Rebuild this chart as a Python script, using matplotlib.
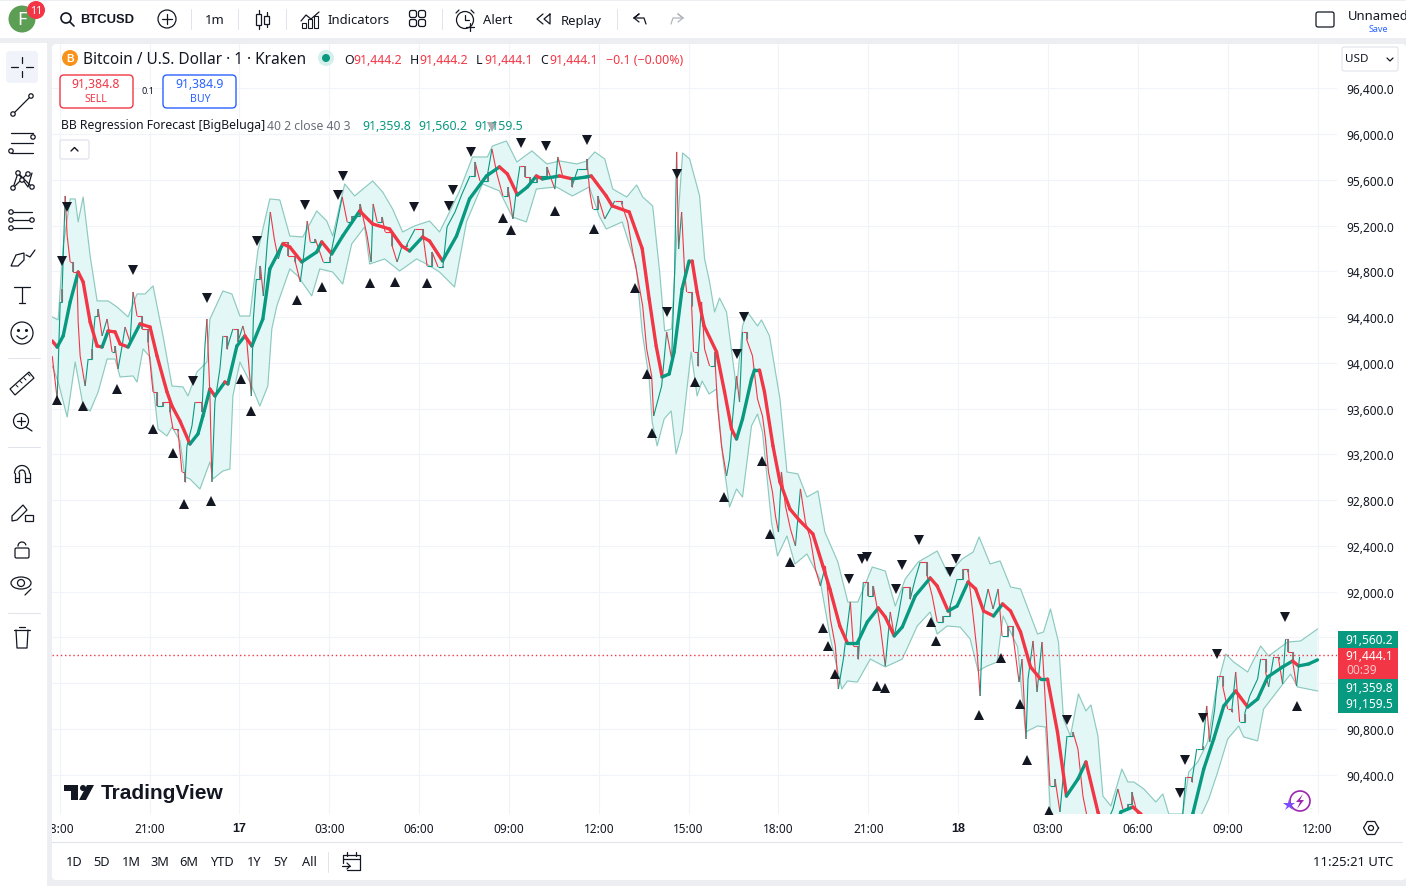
import numpy as np
import matplotlib
matplotlib.use('Agg')
import matplotlib.pyplot as plt
from matplotlib.patches import Rectangle, Circle, FancyBboxPatch, Polygon, Ellipse
from matplotlib.collections import LineCollection

plt.rcParams['font.family'] = ['Noto Sans', 'DejaVu Sans']

GREEN = '#089981'
RED = '#f23645'
DARK = '#131722'
BLUE = '#2962ff'

# minutes since 18:00 on the first day
basis_t = [-15, -5, 7, 21, 37, 47, 61, 75, 85, 97, 111, 121, 137, 161, 181, 195, 215, 225, 241, 261, 277, 287, 301, 311, 331, 337, 355, 371, 385, 407, 421, 447, 461, 485, 515, 525, 545, 567, 601, 627, 661, 685, 701, 727, 741, 767, 795, 821, 855, 881, 897, 917, 937, 955, 967, 1001, 1027, 1055, 1065, 1095, 1107, 1141, 1167, 1181, 1195, 1207, 1221, 1231, 1247, 1261, 1267, 1277, 1291, 1316, 1332, 1346, 1356, 1368, 1386, 1392, 1402, 1412, 1429, 1443, 1463, 1483, 1509, 1529, 1543, 1563, 1578, 1598, 1618, 1640, 1654, 1672, 1688, 1714, 1744, 1758, 1780, 1798, 1820, 1835, 1851, 1871, 1889, 1905, 1925, 1945, 1965, 1979, 1999, 2017, 2040, 2056, 2080, 2106, 2126, 2150, 2166, 2206, 2236, 2270, 2292, 2312, 2332, 2356, 2380, 2400, 2420, 2450, 2470, 2482, 2502, 2520]
basis_p = [94192, 94139, 94236, 94533, 94795, 94708, 94358, 94148, 94139, 94279, 94271, 94166, 94139, 94341, 94314, 94061, 93746, 93623, 93492, 93291, 93379, 93536, 93772, 93711, 93833, 93816, 94148, 94236, 94148, 94384, 94822, 95040, 95014, 94883, 94970, 95058, 94953, 95110, 95329, 95215, 95171, 95023, 94979, 95101, 95066, 94892, 95110, 95434, 95635, 95714, 95652, 95469, 95539, 95635, 95609, 95635, 95609, 95626, 95635, 95460, 95373, 95320, 95000, 94559, 94148, 93877, 93903, 94096, 94647, 94892, 94892, 94620, 94323, 94096, 93746, 93422, 93335, 93510, 93860, 93938, 93938, 93746, 93274, 92959, 92722, 92618, 92504, 92224, 92023, 91699, 91551, 91551, 91734, 91857, 91778, 91612, 91690, 91962, 92119, 92049, 91830, 91874, 92084, 92023, 91830, 91787, 91892, 91830, 91647, 91341, 91236, 91236, 90772, 90212, 90361, 90510, 90073, 89749, 90073, 90116, 90055, 89487, 89574, 90055, 90448, 90711, 90999, 91131, 90991, 91061, 91253, 91341, 91393, 91350, 91367, 91403]

upper_t = [-15, -3, 7, 21, 31, 37, 47, 61, 75, 97, 115, 137, 155, 171, 187, 207, 225, 247, 257, 275, 295, 301, 327, 345, 361, 381, 397, 421, 441, 461, 487, 515, 535, 547, 571, 591, 627, 647, 667, 687, 711, 741, 761, 781, 801, 827, 857, 867, 895, 916, 946, 976, 1002, 1036, 1056, 1072, 1092, 1108, 1136, 1156, 1168, 1188, 1202, 1212, 1226, 1236, 1248, 1262, 1282, 1292, 1302, 1312, 1322, 1336, 1356, 1368, 1378, 1398, 1406, 1422, 1443, 1457, 1479, 1497, 1519, 1533, 1559, 1579, 1599, 1628, 1654, 1674, 1694, 1720, 1758, 1780, 1808, 1830, 1842, 1864, 1884, 1905, 1925, 1959, 1971, 1985, 2001, 2011, 2025, 2041, 2056, 2066, 2080, 2090, 2106, 2128, 2140, 2152, 2172, 2196, 2210, 2222, 2250, 2262, 2280, 2300, 2316, 2336, 2352, 2380, 2406, 2422, 2460, 2486, 2520]
upper_p = [94402, 94376, 95023, 95434, 95434, 95233, 95451, 94935, 94542, 94542, 94489, 94402, 94603, 94603, 94673, 94236, 93798, 93790, 93711, 93921, 94008, 94384, 94629, 94603, 94410, 94410, 94979, 95434, 95425, 95110, 95101, 95329, 95241, 95110, 95565, 95460, 95591, 95495, 95346, 95145, 95198, 95241, 95145, 95320, 95504, 95801, 95801, 95897, 95941, 95757, 95854, 95740, 95766, 95740, 95766, 95845, 95784, 95521, 95451, 95556, 95451, 95373, 94795, 94279, 94297, 95084, 95836, 95784, 95460, 94909, 94708, 94445, 94568, 94445, 93772, 94323, 94445, 94323, 94376, 94236, 93685, 93046, 93029, 92827, 92880, 92521, 92259, 91909, 91909, 92215, 92180, 91874, 92110, 92259, 92355, 92154, 92285, 92346, 92478, 92242, 92268, 92040, 92023, 91629, 91647, 91848, 91559, 90886, 90737, 91105, 90956, 91009, 90737, 90212, 90125, 90448, 90335, 90335, 90274, 90160, 90230, 90055, 90055, 90422, 90510, 90685, 91122, 91454, 91384, 91297, 91524, 91437, 91559, 91568, 91673]

lower_t = [-15, -3, 15, 31, 47, 61, 77, 95, 111, 121, 147, 155, 167, 181, 197, 215, 225, 241, 251, 261, 281, 301, 307, 327, 341, 347, 361, 381, 401, 417, 425, 435, 461, 477, 505, 521, 547, 567, 585, 611, 621, 651, 681, 715, 735, 761, 791, 815, 847, 881, 907, 935, 955, 995, 1027, 1061, 1081, 1095, 1127, 1155, 1167, 1181, 1187, 1197, 1211, 1225, 1235, 1247, 1265, 1277, 1287, 1301, 1316, 1328, 1342, 1356, 1368, 1386, 1398, 1408, 1426, 1438, 1457, 1473, 1497, 1523, 1543, 1567, 1578, 1598, 1624, 1654, 1688, 1718, 1744, 1758, 1778, 1804, 1824, 1840, 1858, 1878, 1890, 1919, 1935, 1959, 1975, 1985, 2085, 2186, 2290, 2302, 2320, 2340, 2362, 2372, 2400, 2412, 2432, 2466, 2480, 2520]
lower_p = [93973, 93833, 93527, 94008, 93623, 93580, 93746, 94034, 94034, 93877, 93886, 93833, 94122, 94052, 93422, 93361, 93440, 93317, 93002, 92985, 92897, 93134, 92985, 93055, 93072, 93711, 94008, 93833, 93623, 93798, 94297, 94498, 94822, 94760, 94586, 94822, 94795, 94690, 95040, 95189, 94865, 94909, 94804, 94909, 94865, 94795, 94664, 95233, 95565, 95504, 95276, 95233, 95521, 95539, 95460, 95539, 95285, 95171, 95233, 94848, 94271, 93860, 93483, 93274, 93510, 93580, 93204, 93396, 94096, 93711, 93842, 93728, 93772, 93186, 92740, 92897, 92827, 93449, 93553, 93396, 92609, 92312, 92486, 92241, 92329, 92110, 91612, 91148, 91218, 91209, 91410, 91341, 91410, 91699, 91822, 91629, 91699, 91690, 91586, 91306, 91349, 91384, 91787, 91516, 90772, 90825, 90816, 90073, 89574, 89312, 90073, 90186, 90422, 90711, 90825, 90729, 90694, 90973, 91087, 91279, 91166, 91131]

price_t = [-15, -5, 1, 5, 11, 15, 21, 27, 35, 37, 41, 51, 57, 65, 71, 77, 85, 95, 105, 111, 117, 125, 131, 141, 147, 155, 165, 177, 187, 195, 207, 221, 227, 237, 245, 251, 255, 265, 271, 285, 291, 295, 301, 305, 311, 321, 327, 335, 347, 357, 367, 375, 384, 388, 394, 402, 408, 416, 422, 430, 438, 448, 458, 472, 482, 488, 496, 502, 512, 528, 542, 556, 566, 576, 586, 602, 616, 624, 628, 636, 646, 652, 666, 676, 686, 696, 712, 728, 736, 746, 758, 768, 776, 792, 806, 822, 832, 842, 858, 866, 876, 888, 898, 908, 916, 922, 932, 942, 956, 976, 992, 998, 1008, 1026, 1038, 1056, 1062, 1068, 1078, 1092, 1112, 1126, 1138, 1148, 1156, 1168, 1176, 1186, 1190, 1206, 1216, 1226, 1232, 1236, 1240, 1246, 1252, 1256, 1266, 1270, 1278, 1286, 1292, 1302, 1312, 1318, 1326, 1336, 1342, 1348, 1356, 1362, 1368, 1376, 1388, 1398, 1408, 1414, 1420, 1428, 1434, 1440, 1446, 1454, 1464, 1474, 1484, 1494, 1504, 1514, 1524, 1534, 1544, 1554, 1560, 1570, 1584, 1590, 1600, 1610, 1620, 1630, 1644, 1654, 1664, 1672, 1680, 1690, 1704, 1714, 1724, 1738, 1748, 1758, 1770, 1784, 1798, 1810, 1820, 1830, 1838, 1844, 1850, 1860, 1870, 1880, 1888, 1900, 1910, 1922, 1928, 1936, 1940, 1950, 1958, 1968, 1978, 1984, 1994, 2004, 2018, 2030, 2040, 2050, 2058, 2084, 2110, 2120, 2130, 2140, 2148, 2158, 2204, 2250, 2256, 2268, 2278, 2284, 2290, 2298, 2304, 2314, 2320, 2330, 2340, 2348, 2356, 2364, 2374, 2384, 2400, 2406, 2416, 2422, 2432, 2442, 2450, 2456, 2460, 2470, 2478, 2484]
price_p = [94061, 93685, 94533, 94647, 95460, 95110, 94883, 94795, 94708, 94358, 94061, 93798, 94034, 94122, 94410, 94472, 94236, 94384, 94096, 94148, 93947, 94148, 94314, 94183, 94620, 94410, 94297, 94183, 93746, 93623, 93658, 93571, 93422, 93405, 93046, 92959, 93274, 93449, 93658, 93571, 94148, 94384, 93711, 92959, 93658, 93947, 94236, 94122, 94297, 94183, 94323, 94183, 93711, 94384, 94734, 94848, 94585, 95058, 95320, 95084, 94909, 95058, 94935, 94883, 94708, 94909, 95241, 95058, 95084, 94883, 94926, 95233, 95451, 95233, 95285, 95390, 95110, 94883, 95390, 95233, 95276, 95145, 95023, 94883, 95023, 95040, 95171, 95110, 94848, 94970, 94839, 94848, 95189, 95320, 95478, 95635, 95757, 95591, 95670, 95871, 95652, 95460, 95539, 95259, 95548, 95722, 95626, 95582, 95635, 95714, 95521, 95801, 95626, 95539, 95696, 95784, 95495, 95346, 95460, 95259, 95416, 95390, 95233, 94970, 94795, 94498, 94122, 93886, 93536, 93798, 94271, 94034, 94795, 95845, 94996, 95320, 94795, 94620, 94498, 94096, 93973, 94533, 94122, 93973, 94096, 93623, 93274, 93011, 93160, 93510, 93886, 93658, 94271, 94209, 94061, 93685, 93536, 93335, 93046, 92871, 92661, 92521, 93046, 92749, 92548, 92399, 92898, 92609, 92460, 92198, 92049, 92224, 91761, 91524, 91148, 91410, 91909, 91524, 91410, 92084, 91962, 92049, 91699, 91349, 91822, 91612, 91787, 92040, 91935, 92110, 92259, 92137, 91962, 91734, 91787, 91874, 92110, 92198, 92172, 91787, 91472, 91087, 91822, 92023, 91848, 92023, 91612, 91699, 91612, 91209, 91410, 90711, 91236, 91568, 91122, 91559, 90772, 90300, 90361, 90073, 90737, 90772, 90623, 90212, 90038, 89836, 90098, 90274, 90098, 90143, 90247, 90073, 89749, 90055, 90379, 90335, 90624, 90624, 90650, 91000, 90685, 90973, 91262, 91174, 90973, 90947, 91297, 90860, 90930, 91087, 91236, 91411, 91297, 91166, 91428, 91411, 91192, 91585, 91472, 91393, 91174, 91428]

buy_t = [-5, 47, 115, 187, 227, 249, 303, 363, 383, 476, 526, 622, 672, 736, 888, 904, 992, 1070, 1152, 1176, 1186, 1272, 1330, 1408, 1424, 1464, 1530, 1540, 1554, 1638, 1654, 1746, 1756, 1842, 1886, 1924, 1938, 1982, 2478]
buy_p = [93676, 93623, 93772, 93422, 93212, 92766, 92793, 93860, 93580, 94551, 94664, 94699, 94708, 94699, 95268, 95163, 95329, 95171, 94655, 93903, 93387, 93833, 92827, 93142, 92504, 92259, 91682, 91524, 91279, 91174, 91157, 91734, 91568, 90921, 91419, 91017, 90527, 90081, 91000]
sell_t = [5, 15, 147, 267, 295, 396, 492, 558, 568, 710, 780, 788, 824, 866, 924, 974, 1056, 1216, 1236, 1356, 1370, 1582, 1608, 1618, 1676, 1688, 1722, 1784, 1796, 2018, 2244, 2254, 2290, 2318, 2454]
sell_p = [94892, 95364, 94813, 93842, 94568, 95066, 95381, 95469, 95635, 95364, 95373, 95513, 95845, 96064, 95924, 95897, 95950, 94445, 95652, 94078, 94402, 92110, 92285, 92303, 92023, 92233, 92452, 92172, 92285, 90877, 90239, 90527, 90894, 91454, 91778]

time_ticks = list(range(0, 2521, 180))
time_labels = ['18:00', '21:00', '17', '03:00', '06:00', '09:00', '12:00', '15:00', '18:00', '21:00', '18', '03:00', '06:00', '09:00', '12:00']
price_ticks = list(range(90400, 96401, 400))
hidden_prices = [91200, 91600]  # sit behind the price tags
last_price = 91444.1

fig = plt.figure(figsize=(14.06, 8.87), dpi=100, facecolor='#eceef1')

# panels behind the chart
bg = fig.add_axes([0, 0, 1, 1], zorder=0)
bg.set_xlim(0, 1406)
bg.set_ylim(887, 0)
bg.axis('off')
bg.add_patch(Rectangle((0, 2), 1406, 37, color='white', lw=0))
bg.add_patch(FancyBboxPatch((56, 49), 1346, 828, boxstyle='round,pad=4', color='white', lw=0))

# chart
ax = fig.add_axes([52 / 1406, 1 - 815 / 887, (1337 - 52) / 1406, (815 - 45) / 887], zorder=1)
ax.set_facecolor('none')
ax.set_xlim(-15.4, 2559)
ax.set_ylim(90055, 96789)
for s in ax.spines.values():
    s.set_visible(False)
ax.set_xticks(time_ticks)
ax.set_xticklabels(time_labels, fontsize=8.5, color=DARK)
for lab, txt in zip(ax.get_xticklabels(), time_labels):
    if len(txt) == 2:
        lab.set_family('Liberation Sans')
        lab.set_fontweight('bold')
        lab.set_fontsize(9)
ax.yaxis.tick_right()
ax.set_yticks(price_ticks)
ax.set_yticklabels(['' if p in hidden_prices else f'{p:,.1f}' for p in price_ticks], fontsize=8.6, color=DARK)
ax.tick_params(length=0, axis='x', pad=6)
ax.tick_params(length=0, axis='y', pad=7)
ax.grid(color='#f0f3fa', lw=0.8)
ax.set_axisbelow(True)

band_x = upper_t + lower_t[::-1]
band_y = upper_p + lower_p[::-1]
ax.fill(band_x, band_y, color='#e4f7f7', lw=0, zorder=2)
ax.plot(upper_t, upper_p, color='#8ccabf', lw=0.85, zorder=3)
ax.plot(lower_t, lower_p, color='#8ccabf', lw=0.85, zorder=3)

# candles: small moves stepped, big moves as one stroke
candle_segs = []
candle_cols = []
gray_segs = []
for i in range(1, len(price_t)):
    t0, t1, p0, p1 = price_t[i - 1], price_t[i], price_p[i - 1], price_p[i]
    col = GREEN if p1 >= p0 else RED
    if abs(p1 - p0) < 130:
        candle_segs += [[(t0, p0), (t1, p0)], [(t1, p0), (t1, p1)]]
        candle_cols += [col, col]
        gray_segs.append([(t1, p0), (t1, p1)])
    else:
        candle_segs.append([(t0, p0), (t1, p1)])
        candle_cols.append(col)
ax.add_collection(LineCollection(candle_segs, colors=candle_cols, linewidths=0.8, zorder=4))
ax.add_collection(LineCollection(gray_segs, colors='#787878', linewidths=1.3, zorder=4))

# regression line, green going up and red going down
segs = [[(basis_t[i], basis_p[i]), (basis_t[i + 1], basis_p[i + 1])] for i in range(len(basis_t) - 1)]
seg_cols = [GREEN if basis_p[i + 1] >= basis_p[i] else RED for i in range(len(basis_t) - 1)]
ax.add_collection(LineCollection(segs, colors=seg_cols, linewidths=2.4, capstyle='round', zorder=5))

ax.plot(buy_t, buy_p, ls='none', marker='^', ms=6.5, color=DARK, mew=0, zorder=6)
ax.plot(sell_t, sell_p, ls='none', marker='v', ms=6.5, color=DARK, mew=0, zorder=6)
ax.axhline(last_price, color=RED, lw=1, ls=(0, (1, 2)), zorder=3)

# everything on top, in pixels
ui = fig.add_axes([0, 0, 1, 1], zorder=2)
ui.set_xlim(0, 1406)
ui.set_ylim(887, 0)
ui.axis('off')
ui.patch.set_alpha(0)


def label(x, y, s, size=9.4, color=DARK, ha='left', weight='normal'):
    fam = 'Liberation Sans' if weight == 'bold' else None
    ui.text(x, y + 2, s, fontsize=size, color=color, ha=ha, va='center', weight=weight, family=fam)


def line(xs, ys, lw=0.9, color=DARK):
    ui.plot(xs, ys, color=color, lw=lw, solid_capstyle='round')


def dot(x, y, r=2.2, lw=0.9, color=DARK, face='white'):
    ui.add_patch(Circle((x, y), r, fc=face, ec=color, lw=lw, zorder=4))


def box(x, y, w, h, ec, fc='white', lw=1, r=4):
    ui.add_patch(FancyBboxPatch((x + r, y + r), w - 2 * r, h - 2 * r, boxstyle=f'round,pad={r}', fc=fc, ec=ec, lw=lw))


# left toolbar cover, the first time label runs under it
ui.add_patch(Rectangle((0, 44), 47, 843, color='white', lw=0))
ui.add_patch(Rectangle((47, 44), 5, 843, color='#eceef1', lw=0))
ui.add_patch(Rectangle((52, 39), 1354, 6, color='#eceef1', lw=0))
ui.add_patch(Rectangle((0, 39), 52, 5, color='#eceef1', lw=0))
line([52, 1402], [843, 843], lw=0.8, color='#e0e3eb')

# top toolbar
ui.add_patch(Circle((22, 20), 13.5, color='#5b9e54', lw=0))
label(22, 18, 'F', size=13, color='white', ha='center')
ui.add_patch(Circle((36, 11), 9, color=RED, lw=0))
label(36, 9, '11', size=7.5, color='white', ha='center')
ui.add_patch(Circle((66, 19), 5, fc='none', ec=DARK, lw=1.2))
line([70, 74], [23, 27], lw=1.2)
label(80, 18, 'BTCUSD', size=9.4, weight='bold')
ui.add_patch(Circle((167, 20), 9, fc='none', ec=DARK, lw=0.9))
line([162, 172], [20, 20])
line([167, 167], [15, 25])
label(215, 19, '1m', size=9.4, ha='center')
for sx in [191, 238, 286, 442, 617]:
    line([sx, sx], [10, 30], lw=0.7, color='#e0e3eb')
line([258.5, 258.5], [11, 30])
ui.add_patch(Rectangle((256, 15), 5, 11, fc='white', ec=DARK, lw=0.9, zorder=3))
line([266.5, 266.5], [13, 28])
ui.add_patch(Rectangle((264, 17), 5, 8, fc='white', ec=DARK, lw=0.9, zorder=3))
line([301, 306, 311, 319], [22, 16, 20, 13])
for bx, bt_ in [(302, 24), (308, 20), (314, 17)]:
    ui.add_patch(Rectangle((bx, bt_), 4, 29 - bt_, fc='none', ec=DARK, lw=0.8))
label(327, 19, 'Indicators', size=9.4)
for gx, gy in [(413, 15), (422, 15), (413, 24), (422, 24)]:
    box(gx - 3.5, gy - 3.5, 7, 7, DARK, lw=0.9, r=2)
ui.add_patch(Circle((465, 21), 8.5, fc='none', ec=DARK, lw=0.9))
line([465, 465, 469], [16, 21, 21])
line([456, 459], [14, 11])
line([471, 474], [11, 14])
line([470, 470], [24, 32], color=DARK)
line([466, 474], [28, 28], color=DARK)
label(483, 19, 'Alert', size=9.4)
line([543, 537, 543], [15, 20, 25])
line([550, 544, 550, 550], [15, 20, 25, 15])
label(561, 19, 'Replay', size=9.4)
line([634, 639, 634, 644, 646], [19, 15, 19, 19, 25])
line([634, 639], [19, 23])
line([683, 678, 683, 673, 671], [19, 15, 19, 19, 25], color='#b2b5be')
line([683, 678], [19, 23], color='#b2b5be')
box(1316, 13, 18, 15, DARK, lw=0.9, r=2)
label(1348, 14, 'Unnamed', size=9.4)
label(1378, 27, 'Save', size=6.5, color=BLUE, ha='center')

# left toolbar
ui.add_patch(FancyBboxPatch((10, 56), 24, 24, boxstyle='round,pad=4', color='#f0f3fa', lw=0))
line([22, 22], [58, 64]); line([22, 22], [72, 78])
line([11, 18], [68, 68]); line([26, 33], [68, 68])
line([14, 31], [114, 97]); dot(13, 115); dot(31, 97)
for ly in [134, 144, 154]:
    line([11, 33], [ly, ly])
dot(33, 138); dot(11, 152)
line([13, 18, 28, 32], [189, 174, 188, 174]); line([18, 32], [174, 188]); line([13, 28], [189, 174])
dot(13, 189); dot(18, 174); dot(28, 175); dot(32, 188); dot(22, 181)
for ly in [213, 221, 229]:
    line([11, 32], [ly, ly])
dot(11, 213); dot(11, 221); dot(32, 221); dot(11, 229)
ui.add_patch(Polygon([(11, 267), (16, 256), (24, 254), (24, 261), (18, 267)], closed=True, fc='none', ec=DARK, lw=0.9))
line([26, 30, 35], [256, 258, 251])
line([14, 30], [288, 288]); line([22, 22], [288, 304]); line([19, 25], [304, 304])
ui.add_patch(Circle((22, 334), 11, fc='none', ec=DARK, lw=0.9))
ui.plot([18, 26], [331, 331], ls='none', marker='.', ms=2.5, color=DARK)
ui.plot(np.array([17, 19.5, 22, 24.5, 27]), [337, 339, 340, 339, 337], color=DARK, lw=0.9)
for sy in [359, 448, 614]:
    line([8, 40], [sy, sy], lw=0.7, color='#e0e3eb')
ui.add_patch(Polygon([(10, 390), (29, 373), (34, 379), (15, 396)], closed=True, fc='none', ec=DARK, lw=0.9))
for rx, ry in [(16, 386), (20, 382), (24, 379), (28, 375)]:
    line([rx, rx + 2], [ry, ry + 2], lw=0.7)
ui.add_patch(Circle((21, 422), 7.5, fc='none', ec=DARK, lw=0.9))
line([26, 32], [428, 432]); line([17, 25], [422, 422]); line([21, 21], [418, 426])
ui.plot(22 + 7.5 * np.cos(np.linspace(np.pi, 2 * np.pi, 20)), 474 + 7.5 * np.sin(np.linspace(np.pi, 2 * np.pi, 20)), color=DARK, lw=0.9)
ui.plot(22 + 3 * np.cos(np.linspace(np.pi, 2 * np.pi, 20)), 474 + 3 * np.sin(np.linspace(np.pi, 2 * np.pi, 20)), color=DARK, lw=0.9)
line([14.5, 14.5, 19, 19], [474, 483, 483, 474]); line([25, 25, 29.5, 29.5], [474, 483, 483, 474])
line([14.5, 19], [479, 479]); line([25, 29.5], [479, 479])
ui.add_patch(Polygon([(12, 517), (12, 522), (17, 521), (27, 511), (23, 506)], closed=True, fc='none', ec=DARK, lw=0.9))
ui.add_patch(Rectangle((25, 516), 8, 6, fc='white', ec=DARK, lw=0.9))
box(15, 549, 14, 10, DARK, lw=0.9, r=1.5)
ui.plot(22 + 4 * np.cos(np.linspace(np.pi, 1.9 * np.pi, 20)), 547 + 4 * np.sin(np.linspace(np.pi, 1.9 * np.pi, 20)), color=DARK, lw=0.9)
ui.add_patch(Ellipse((21, 584), 20, 12, fc='none', ec=DARK, lw=0.9))
ui.add_patch(Circle((21, 584), 3.5, fc='none', ec=DARK, lw=0.9))
line([25, 31], [596, 590])
line([14, 30], [631, 631]); line([19, 25], [628, 628])
line([16, 17, 27, 28], [631, 649, 649, 631])

# legend rows
ui.add_patch(Rectangle((58, 118), 470, 15, color='white', alpha=0.65, lw=0))
ui.add_patch(Circle((70, 59), 8, color='#f7931a', lw=0))
label(70, 57, 'B', size=7.5, color='white', ha='center', weight='bold')
label(83, 58, 'Bitcoin / U.S. Dollar · 1 · Kraken', size=11.1)
ui.add_patch(Circle((326, 59), 8, color='#d5f0ec', lw=0))
ui.add_patch(Circle((326, 59), 4, color=GREEN, lw=0))
for ox, lt, vx, val in [(344, 'O', 353, '91,444.2'), (410, 'H', 419, '91,444.2'), (476, 'L', 484, '91,444.1'), (540, 'C', 549, '91,444.1')]:
    label(ox, 58, lt, size=8.9)
    label(vx, 58, val, size=8.9, color=RED)
label(606, 58, '−0.1 (−0.00%)', size=8.9, color=RED)
box(60, 76, 73, 33, RED, lw=1)
label(96, 83, '91,384.8', size=8.8, color=RED, ha='center')
label(96, 97, 'SELL', size=7.6, color=RED, ha='center')
label(148, 90, '0.1', size=6.5, ha='center')
box(163, 76, 73, 33, BLUE, lw=1)
label(200, 83, '91,384.9', size=8.8, color=BLUE, ha='center')
label(200, 97, 'BUY', size=7.6, color=BLUE, ha='center')
label(61, 124, 'BB Regression Forecast [BigBeluga]', size=8.8)
label(267, 124, '40 2 close 40 3', size=8.8, color='#6a6d78')
label(362, 124, '91,359.8', size=8.9, color=GREEN)
label(418, 124, '91,560.2', size=8.9, color=GREEN)
label(474, 124, '91,159.5', size=8.9, color=GREEN)
box(60, 141, 29, 19, '#e0e3eb', lw=0.9, r=2)
line([71, 74.5, 78], [152, 148.5, 152], lw=1)

# USD box
box(1342, 48, 56, 24, '#e0e3eb', lw=0.8, r=2)
label(1345, 58, 'USD', size=8.4)
line([1387, 1390, 1393], [59, 62, 59], lw=0.9)

# price tags
for ty, th, col, val in [(632, 17, GREEN, '91,560.2'), (680, 17, GREEN, '91,359.8'), (696, 18, GREEN, '91,159.5')]:
    ui.add_patch(Rectangle((1338, ty), 60, th, color=col, lw=0))
    label(1393, ty + th / 2 - 2, val, size=8.6, color='white', ha='right')
ui.add_patch(Rectangle((1338, 649), 60, 31, color=RED, lw=0))
label(1393, 655, '91,444.1', size=8.6, color='white', ha='right')
label(1346, 669, '00:39', size=8.6, color='#fbc4c8')

# watermark
ui.add_patch(Polygon([(64, 786), (78, 786), (78, 801), (71, 801), (71, 792), (64, 792)], closed=True, color=DARK, lw=0))
ui.add_patch(Circle((83, 789), 3, color=DARK, lw=0))
ui.add_patch(Polygon([(87, 786), (94, 786), (86, 801), (79, 801)], closed=True, color=DARK, lw=0))
label(101, 792, 'TradingView', size=15, weight='bold')

# sparkle button
ui.add_patch(Circle((1300, 802), 10, fc='none', ec='#9c27b0', lw=1.2))
ui.add_patch(Polygon([(1303, 795), (1296, 803), (1300, 803), (1297, 810), (1304, 801), (1300, 801)], closed=True, color='#9c27b0', lw=0))
ui.plot([1289], [806], marker='*', ms=9, color='#7c4dff', mew=0)

# gear
ang = np.deg2rad(np.arange(0, 361, 60))
ui.plot(1371 + 7.5 * np.cos(ang), 829 + 7.5 * np.sin(ang), color=DARK, lw=0.9)
ui.add_patch(Circle((1371, 829), 2.5, fc='none', ec=DARK, lw=0.9))

# bottom bar
for bx_, txt in zip([74, 102, 131, 160, 189, 222, 254, 281, 309], ['1D', '5D', '1M', '3M', '6M', 'YTD', '1Y', '5Y', 'All']):
    label(bx_, 861, txt, size=9.2, ha='center')
line([328, 328], [853, 873], lw=0.7, color='#e0e3eb')
line([343, 343, 360, 360, 347], [864, 856, 856, 871, 871])
line([343, 360], [860, 860]); line([347, 347], [853, 857]); line([356, 356], [853, 857])
line([342, 350], [867, 867]); line([347, 350, 347], [864, 867, 870])
label(1393, 861, '11:25:21 UTC', size=9.4, ha='right')

fig.savefig('out.png', dpi=100)
